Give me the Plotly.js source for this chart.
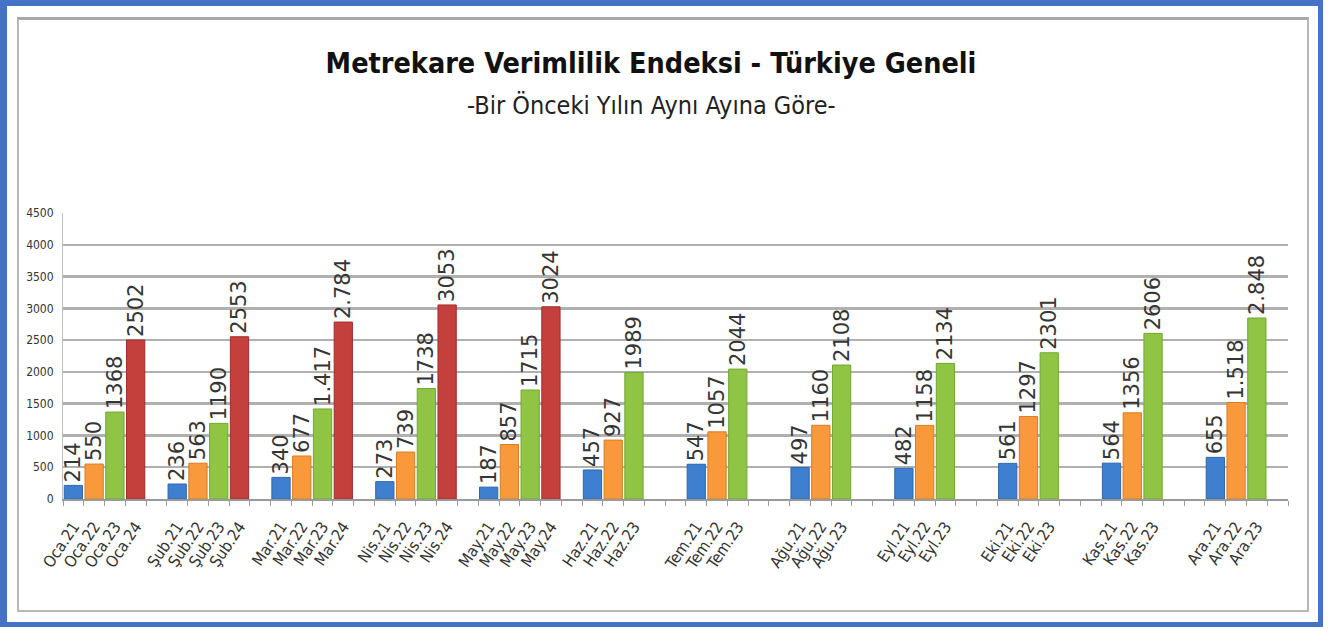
<!DOCTYPE html>
<html>
<head>
<meta charset="utf-8">
<script src="https://cdn.plot.ly/plotly-3.0.1.min.js"></script>
<style>
  html, body { margin:0; padding:0; background:#ffffff; }
  #wrap { position:relative; width:1328px; height:630px; overflow:hidden; background:#fff; }
  #blue { position:absolute; left:0; top:0; width:1323px; height:627px; box-sizing:border-box;
          border-style:solid; border-color:#4472C4; border-width:6px 5px 5px 7px; }
  #gray { position:absolute; left:17px; top:17px; width:1292px; height:595px; box-sizing:border-box;
          border:2px solid #b8b8b8; border-top:3px solid #a8a8a8; }
  #chart { position:absolute; left:0; top:0; width:1328px; height:630px; }
</style>
</head>
<body>
<div id="wrap">
  <div id="blue"></div>
  <div id="gray"></div>
  <div id="chart"></div>
</div>
<script>
// ---- data ----
const months = ['Oca','Şub','Mar','Nis','May','Haz','Tem','Ağu','Eyl','Eki','Kas','Ara'];
const years  = ['21','22','23','24'];
const v21 = [214, 236, 340, 273, 187, 457, 547, 497, 482, 561, 564, 655];
const v22 = [550, 563, 677, 739, 857, 927, 1057, 1160, 1158, 1297, 1356, 1518];
const v23 = [1368, 1190, 1417, 1738, 1715, 1989, 2044, 2108, 2134, 2301, 2606, 2848];
const v24 = [2502, 2553, 2784, 3053, 3024];
// data labels as printed on the chart
const t21 = ['214','236','340','273','187','457','547','497','482','561','564','655'];
const t22 = ['550','563','677','739','857','927','1057','1160','1158','1297','1356','1.518'];
const t23 = ['1368','1190','1.417','1738','1715','1989','2044','2108','2134','2301','2606','2.848'];
const t24 = ['2502','2553','2.784','3053','3024'];
const colors = ['#3f7fcf', '#f89a3c', '#8fc445', '#c4403c'];
const lines  = ['#2f67ad', '#d97c22', '#74a632', '#a02e2b'];

// ---- build ----
const SLOTS = 5; // 4 years + 1 gap per month
const series = [v21, v22, v23, v24];
const texts  = [t21, t22, t23, t24];
const traces = series.map((vals, yi) => ({
  type: 'bar',
  x: vals.map((_, mi) => mi * SLOTS + yi),
  y: vals,
  text: texts[yi],
  textposition: 'outside',
  textangle: -90,
  constraintext: 'none',
  cliponaxis: false,
  textfont: { family: 'DejaVu Sans', size: 21, color: '#353535' },
  width: 0.88,
  marker: { color: colors[yi], line: { color: lines[yi], width: 1 } },
  hoverinfo: 'x+y',
  showlegend: false
}));

const tickvals = [], ticktext = [];
months.forEach((m, mi) => {
  series.forEach((vals, yi) => {
    if (mi < vals.length) {
      tickvals.push(mi * SLOTS + yi);
      ticktext.push(m + '.' + years[yi]);
    }
  });
});

const layout = {
  width: 1328, height: 630,
  margin: { l: 63, r: 40, t: 213, b: 131, pad: 0 },
  paper_bgcolor: 'rgba(0,0,0,0)',
  plot_bgcolor: 'rgba(0,0,0,0)',
  barmode: 'overlay',
  font: { family: 'DejaVu Sans Condensed, DejaVu Sans', color: '#333' },
  title: {
    text: '<b>Metrekare Verimlilik Endeksi - Türkiye Geneli</b>',
    font: { family: 'DejaVu Sans Condensed, DejaVu Sans', size: 28.5, color: '#111' },
    x: 651 / 1328, xref: 'container', xanchor: 'center',
    y: 1 - 63 / 630, yref: 'container', yanchor: 'middle'
  },
  annotations: [{
    text: '-Bir Önceki Yılın Aynı Ayına Göre-',
    xref: 'paper', yref: 'paper',
    x: (651 - 63) / 1225, y: (499 - 106) / 286,
    xanchor: 'center', yanchor: 'middle', showarrow: false,
    font: { family: 'DejaVu Sans Condensed, DejaVu Sans', size: 25, color: '#222' }
  }],
  xaxis: {
    range: [-0.5, SLOTS * months.length - 1.5],
    tickmode: 'array', tickvals: tickvals, ticktext: ticktext,
    tickangle: -56, ticks: '',
    ticklabelstandoff: 10,
    tickfont: { family: 'DejaVu Sans Condensed, DejaVu Sans', size: 16, color: '#333' },
    showgrid: false, zeroline: false,
    showline: true, linecolor: '#9a9a9a', linewidth: 2,
    minor: { tickmode: 'linear', tick0: -0.5, dtick: 1, ticks: 'outside', ticklen: 5, tickcolor: '#9a9a9a', tickwidth: 1, showgrid: false },
    fixedrange: true
  },
  yaxis: {
    range: [0, 4500], dtick: 500, tick0: 0,
    tickfont: { family: 'DejaVu Sans Condensed, DejaVu Sans', size: 12, color: '#333' },
    showgrid: true, gridcolor: '#b0b0b0', gridwidth: 2.5,
    zeroline: false, showline: true, linecolor: '#c0c0c0', linewidth: 1,
    ticks: '', ticklabelstandoff: 6,
    fixedrange: true
  }
};

Plotly.newPlot('chart', traces, layout, { displayModeBar: false, staticPlot: true });
</script>
</body>
</html>
